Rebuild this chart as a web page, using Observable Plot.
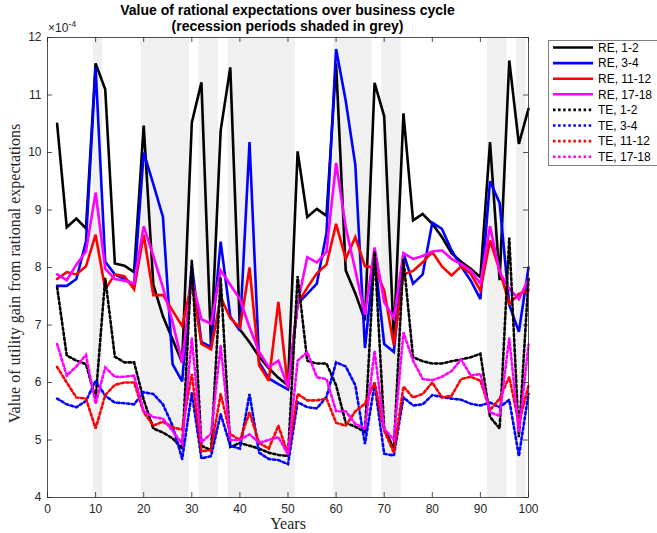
<!DOCTYPE html>
<html>
<head>
<meta charset="utf-8">
<script src="https://cdn.jsdelivr.net/npm/d3@7"></script>
<script src="https://cdn.jsdelivr.net/npm/@observablehq/plot@0.6"></script>
<style>
  body { margin: 0; background: #fff; }
  #wrap { position: relative; width: 657px; height: 533px; overflow: hidden; font-family: "Liberation Sans", Arial, sans-serif; }
  #title { position: absolute; left: 37px; width: 501px; top: 2px; text-align: center; font-weight: bold; font-size: 14px; line-height: 16px; color: #000; }
  #expo { position: absolute; left: 48px; top: 19px; font-size: 12px; color: #262626; }
  #expo sup { font-size: 9px; }
  #legend { position: absolute; left: 548px; top: 40px; }
  #chart svg { display: block; }
</style>
</head>
<body>
<div id="wrap">
  <div id="chart"></div>
  <div id="title">Value of rational expectations over business cycle<br>(recession periods shaded in grey)</div>
  <div id="expo">×10<sup>-4</sup></div>
  <div id="legend"></div>
</div>
<script>
// Simulation years (every second year)
const years = [2, 4, 6, 8, 10, 12, 14, 16, 18, 20, 22, 24, 26, 28, 30, 32, 34, 36, 38, 40,
               42, 44, 46, 48, 50, 52, 54, 56, 58, 60, 62, 64, 66, 68, 70, 72, 74, 76, 78, 80,
               82, 84, 86, 88, 90, 92, 94, 96, 98, 100];

// Utility gain from rational expectations, in units of 1e-4
const re12 = [10.50, 8.70, 8.85, 8.68, 11.55, 11.10, 8.07, 8.03, 7.92, 10.47,
              7.70, 7.15, 6.75, 6.35, 10.52, 11.22, 6.62, 10.38, 11.48, 6.92,
              6.70, 6.45, 6.25, 6.08, 5.95, 10.02, 8.88, 9.02, 8.90, 11.55,
              7.95, 7.55, 7.08, 11.21, 10.63, 6.75, 10.68, 8.82, 8.93, 8.76,
              8.53, 8.25, 8.10, 7.98, 7.83, 10.18, 7.78, 11.60, 10.15, 10.76];
const re34 = [7.68, 7.68, 7.80, 8.45, 11.48, 8.10, 7.88, 7.80, 7.70, 10.00,
              9.45, 8.88, 6.32, 6.02, 8.05, 6.70, 6.62, 8.45, 7.15, 6.90,
              10.18, 6.35, 6.07, 5.97, 5.88, 7.37, 7.54, 7.72, 8.60, 11.80,
              10.90, 9.78, 6.60, 8.20, 6.67, 6.53, 8.25, 7.72, 7.88, 8.78,
              8.67, 8.30, 8.02, 7.77, 7.45, 9.50, 9.12, 7.35, 6.88, 8.00];
const re1112 = [7.80, 7.92, 7.88, 8.02, 8.57, 7.62, 7.88, 7.85, 7.62, 8.57,
                7.52, 7.52, 7.25, 6.98, 7.75, 6.67, 6.58, 7.48, 7.12, 6.95,
                8.00, 6.30, 6.03, 7.40, 5.90, 7.37, 7.65, 7.90, 8.05, 8.76,
                8.15, 8.53, 8.02, 8.00, 7.60, 6.65, 7.88, 7.94, 8.09, 8.27,
                8.02, 7.86, 8.02, 7.89, 7.60, 8.47, 7.95, 7.37, 7.54, 7.60];
const re1718 = [7.88, 7.78, 8.05, 8.28, 9.30, 7.98, 7.80, 7.77, 7.72, 8.72,
                8.20, 7.65, 7.05, 6.35, 7.80, 7.10, 7.02, 7.95, 7.70, 7.45,
                6.96, 6.53, 6.27, 6.38, 5.92, 7.37, 8.18, 8.09, 8.27, 9.82,
                8.70, 7.95, 7.18, 8.35, 7.40, 7.12, 8.25, 8.15, 8.20, 8.28,
                8.30, 8.15, 8.06, 7.95, 7.72, 8.72, 7.92, 7.63, 7.45, 7.80];
const te12 = [7.66, 6.47, 6.38, 6.32, 5.72, 7.82, 6.45, 6.35, 6.35, 5.70,
              5.20, 5.13, 5.03, 4.85, 8.12, 4.90, 4.82, 7.82, 4.88, 4.95,
              4.90, 4.85, 4.78, 4.74, 4.72, 7.85, 6.38, 6.33, 6.33, 5.95,
              5.30, 5.23, 5.14, 8.28, 5.20, 4.85, 8.15, 6.44, 6.37, 6.33,
              6.33, 6.37, 6.40, 6.44, 6.50, 5.40, 5.20, 8.52, 5.05, 7.80];
const te34 = [5.72, 5.62, 5.57, 5.68, 6.03, 5.77, 5.65, 5.64, 5.62, 5.83,
              5.80, 5.62, 5.25, 4.67, 5.82, 4.68, 4.72, 5.45, 4.90, 4.85,
              5.80, 4.78, 4.67, 4.65, 4.58, 5.66, 5.57, 5.55, 5.75, 6.35,
              6.28, 5.95, 4.93, 5.97, 4.76, 4.73, 5.74, 5.60, 5.62, 5.78,
              5.75, 5.72, 5.70, 5.63, 5.60, 5.65, 5.57, 5.70, 4.72, 5.80];
const te1112 = [6.27, 6.00, 5.74, 5.72, 5.20, 5.78, 5.96, 6.00, 6.00, 5.48,
                5.25, 5.32, 5.22, 5.18, 6.15, 4.80, 4.83, 5.80, 5.10, 5.00,
                5.48, 4.95, 4.85, 5.25, 4.75, 5.80, 5.69, 5.69, 5.72, 5.30,
                5.25, 5.50, 5.63, 6.00, 5.16, 4.78, 5.93, 5.74, 5.80, 6.00,
                5.74, 5.77, 6.06, 6.10, 6.03, 5.52, 5.72, 6.10, 5.28, 5.95];
const te1718 = [6.67, 6.12, 6.28, 6.48, 5.63, 6.26, 6.10, 6.10, 6.12, 5.50,
                5.40, 5.37, 5.16, 4.93, 6.78, 4.96, 5.11, 6.64, 5.00, 5.00,
                5.10, 4.95, 5.00, 5.05, 4.75, 6.38, 6.53, 6.09, 6.06, 5.50,
                5.50, 5.28, 5.20, 6.55, 5.20, 5.00, 6.87, 6.38, 6.06, 6.04,
                6.10, 6.20, 6.40, 6.12, 6.15, 5.48, 5.42, 6.78, 5.13, 6.66];

// Recession periods (start / end year)
const recessionStart = [9.5, 19.5, 31.5, 37.5, 59.5, 69.5, 91.5, 97.5];
const recessionEnd   = [11.5, 29.5, 35.5, 51.5, 67.5, 73.5, 95.5, 99.5];

// Tick values
const xTicks = [0, 10, 20, 30, 40, 50, 60, 70, 80, 90, 100];
const yTicks = [4, 5, 6, 7, 8, 9, 10, 11, 12];

const seriesNames = ["RE, 1-2", "RE, 3-4", "RE, 11-12", "RE, 17-18",
                     "TE, 1-2", "TE, 3-4", "TE, 11-12", "TE, 17-18"];
const seriesValues = [re12, re34, re1112, re1718, te12, te34, te1112, te1718];
const seriesColors = ["#000000", "#0000ff", "#ff0000", "#ff00ff",
                      "#000000", "#0000ff", "#ff0000", "#ff00ff"];
const seriesDotted = [false, false, false, false, true, true, true, true];

const DOTS = "2.5,2.6";
const LW = 2.6;

const series = seriesNames.map((name, i) => ({
  name,
  color: seriesColors[i],
  dotted: seriesDotted[i],
  rows: years.map((yr, j) => ({year: yr, value: seriesValues[i][j]}))
}));

const recessions = recessionStart.map((s, i) => ({start: s, end: recessionEnd[i]}));

const W = 657, H = 533;
const mL = 47, mR = 129, mT = 37, mB = 36;
const innerW = W - mL - mR, innerH = H - mT - mB;
const axisColor = "#262626";
const serif = "'Liberation Serif', 'Times New Roman', serif";

const chart = Plot.plot({
  width: W,
  height: H,
  marginLeft: mL,
  marginRight: mR,
  marginTop: mT,
  marginBottom: mB,
  style: {fontFamily: "'Liberation Sans', Arial, sans-serif", fontSize: "12px", color: axisColor, background: "transparent", overflow: "visible"},
  x: {domain: [0, 100], ticks: xTicks, tickSize: 0, tickPadding: 7, label: null},
  y: {domain: [4, 12], ticks: yTicks, tickSize: 0, tickPadding: 6, label: null},
  marks: [
    Plot.rect(recessions, {x1: "start", x2: "end", fill: "#f0f0f0"}),
    ...series.map(s => Plot.line(s.rows, {
      x: "year", y: "value", stroke: s.color, strokeWidth: LW,
      strokeDasharray: s.dotted ? DOTS : null,
      strokeLinejoin: "miter", strokeMiterlimit: 3
    })),
    Plot.frame({stroke: axisColor, strokeWidth: 0.8}),
    Plot.tickX(xTicks, {x: d => d, insetTop: innerH - 5, stroke: axisColor, strokeWidth: 0.8}),
    Plot.tickX(xTicks, {x: d => d, insetBottom: innerH - 5, stroke: axisColor, strokeWidth: 0.8}),
    Plot.tickY(yTicks, {y: d => d, insetRight: innerW - 5, stroke: axisColor, strokeWidth: 0.8}),
    Plot.tickY(yTicks, {y: d => d, insetLeft: innerW - 5, stroke: axisColor, strokeWidth: 0.8}),
    Plot.text(["Years"], {frameAnchor: "bottom", dy: 31, textAnchor: "middle", fontFamily: serif, fontSize: 16, fill: axisColor}),
    Plot.text(["Value of utility gain from rational expectations"], {frameAnchor: "left", textAnchor: "middle", rotate: -90, dx: -33, dy: 6, fontFamily: serif, fontSize: 16, fill: axisColor})
  ]
});
document.getElementById("chart").appendChild(chart);

// Legend box
const lgW = 112, lgH = 126, rowH = 15.6;
const lg = d3.select("#legend").append("svg").attr("width", lgW).attr("height", lgH);
lg.append("rect").attr("x", 0.5).attr("y", 0.5).attr("width", lgW).attr("height", lgH - 1)
  .attr("fill", "#fff").attr("stroke", "#808080").attr("stroke-width", 1);
series.forEach((s, i) => {
  const yy = 7.5 + i * rowH;
  lg.append("line").attr("x1", 5).attr("x2", 45).attr("y1", yy).attr("y2", yy)
    .attr("stroke", s.color).attr("stroke-width", LW)
    .attr("stroke-dasharray", s.dotted ? DOTS : null);
  lg.append("text").attr("x", 50).attr("y", yy).attr("dy", "0.35em")
    .attr("font-family", "'Liberation Sans', Arial, sans-serif").attr("font-size", 12)
    .attr("fill", "#000").text(s.name);
});
</script>
</body>
</html>
